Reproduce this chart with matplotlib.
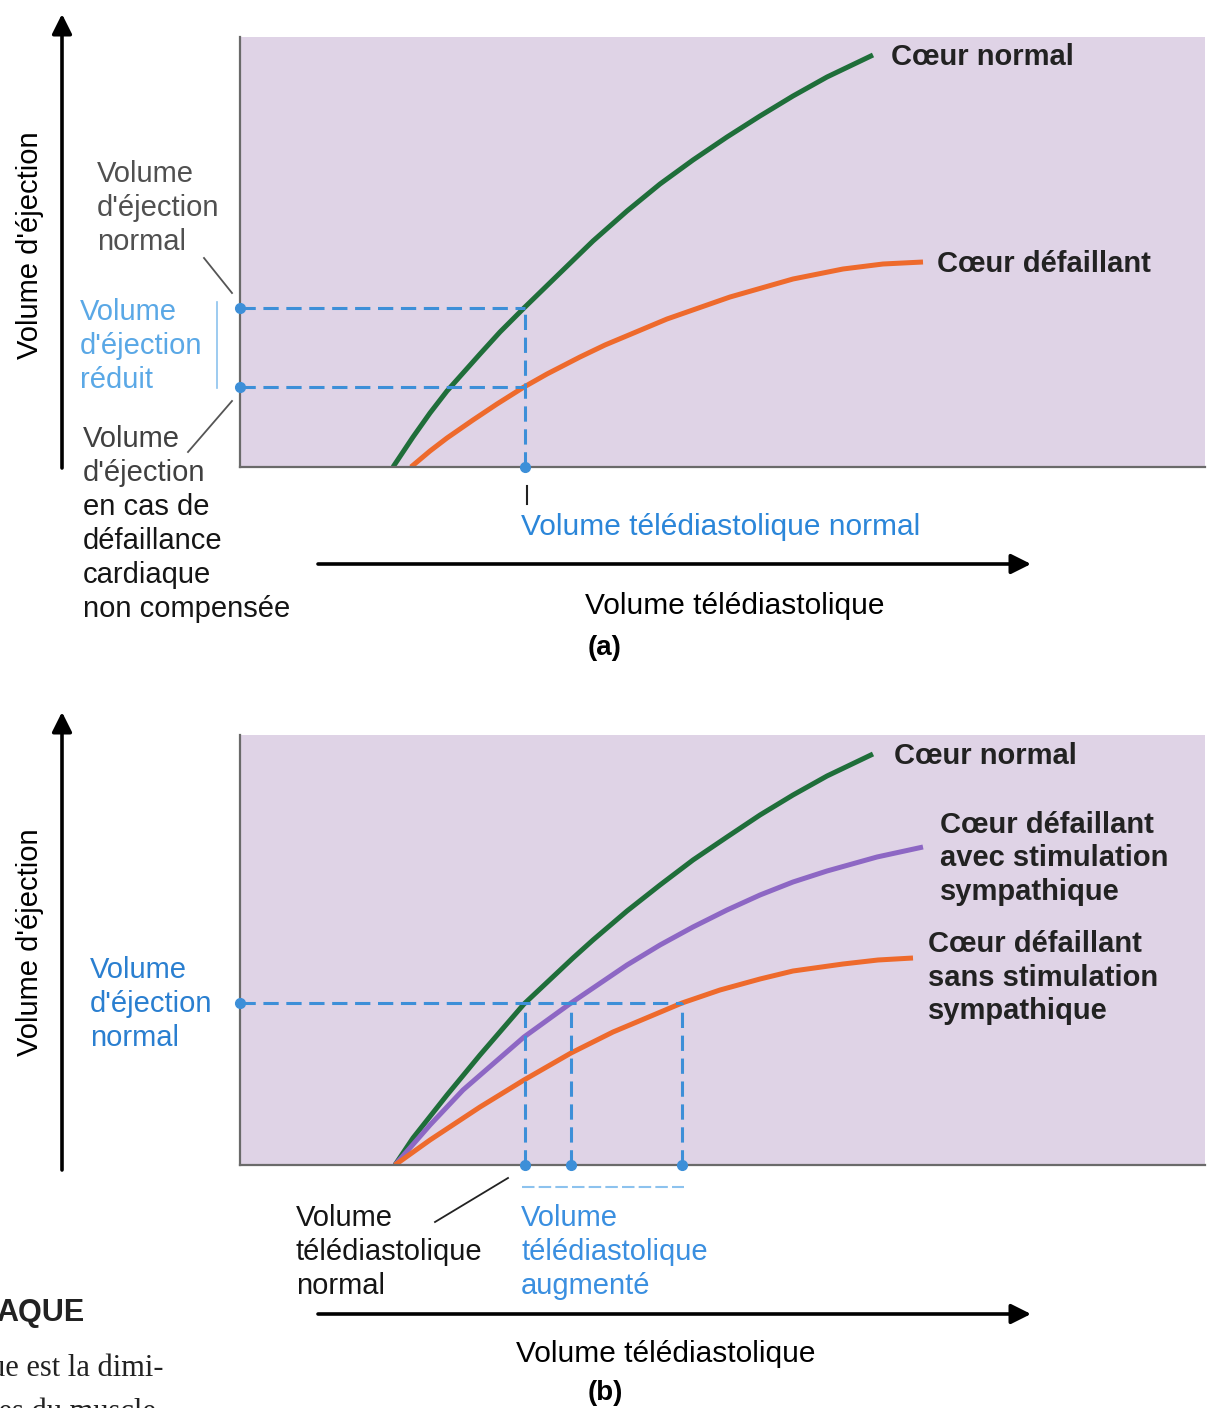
import matplotlib
matplotlib.use("Agg")
import matplotlib.pyplot as plt

plt.rcParams['font.family'] = ['Liberation Sans', 'DejaVu Sans']

# --- data (arbitrary volume units) ---
# panel (a)
edv_a_normal = [153, 173, 190, 207, 240, 260, 284, 320, 353, 387, 420, 453, 487, 520, 553, 587, 633]
sv_a_normal = [0, 30, 54, 76, 113, 135, 159, 194, 226, 256, 283, 307, 330, 351, 371, 390, 412]
edv_a_fail = [171, 190, 207, 233, 257, 284, 307, 340, 365, 427, 490, 553, 603, 643, 683]
sv_a_fail = [0, 16, 29, 47, 63, 80, 93, 110, 122, 148, 170, 188, 198, 203, 205]
edv_ref_a = 285
sv_ref_a = [159, 80]

# panel (b)
edv_b_normal = [155, 173, 207, 240, 284, 333, 353, 387, 420, 453, 487, 520, 553, 587, 633]
sv_b_normal = [0, 27, 70, 110, 161, 207, 225, 254, 280, 305, 328, 350, 370, 389, 411]
edv_b_symp = [155, 190, 223, 284, 331, 387, 420, 453, 487, 520, 553, 587, 637, 683]
sv_b_symp = [0, 40, 75, 128, 162, 200, 220, 238, 255, 270, 283, 294, 308, 318]
edv_b_fail = [155, 190, 240, 284, 331, 373, 442, 480, 520, 553, 603, 638, 673]
sv_b_fail = [0, 25, 58, 85, 112, 133, 162, 175, 186, 194, 201, 205, 207]
sv_ref_b = 162
edv_ref_b = [285, 331, 442]

GREEN = '#1f6e3a'
ORANGE = '#ee6a2c'
PURPLE = '#8d67c4'
BLUE = '#3d8fd8'
BG = '#dfd3e6'
W, H = 1210, 1408

fig = plt.figure(figsize=(W / 100, H / 100), dpi=100)
bg = fig.add_axes([0, 0, 1, 1])
bg.set_xlim(0, W)
bg.set_ylim(H, 0)
bg.axis('off')
bg.set_zorder(10)


def panel(top, bottom):
    ax = fig.add_axes([240 / W, 1 - bottom / H, 965 / W, (bottom - top) / H])
    ax.set_xlim(0, 965)
    ax.set_ylim(0, bottom - top)
    ax.set_facecolor(BG)
    for s in ['top', 'right']:
        ax.spines[s].set_visible(False)
    for s in ['left', 'bottom']:
        ax.spines[s].set_color('#6a6a6a')
        ax.spines[s].set_linewidth(1.6)
    ax.set_xticks([])
    ax.set_yticks([])
    return ax


def rows(x, y0, texts, step=34, size=21, **kw):
    for i, t in enumerate(texts):
        bg.text(x, y0 + 2 + i * step, t, va='center', ha='left', fontsize=size, **kw)


def arrow(x0, y0, x1, y1):
    bg.annotate('', xy=(x1, y1), xytext=(x0, y0),
                arrowprops=dict(arrowstyle='-|>', color='black', lw=2.6,
                                mutation_scale=30, shrinkA=0, shrinkB=0))


dash = dict(color=BLUE, lw=2.2, dashes=(5, 2.5))
dot = dict(color=BLUE, marker='o', markersize=7, ls='none', clip_on=False, zorder=5)
curve = dict(lw=3.6, solid_capstyle='butt', solid_joinstyle='round')

# ---------------- panel (a) ----------------
pa = panel(37, 467)
pa.plot(edv_a_normal, sv_a_normal, color=GREEN, **curve)
pa.plot(edv_a_fail, sv_a_fail, color=ORANGE, **curve)
for sv in sv_ref_a:
    pa.plot([0, edv_ref_a], [sv, sv], **dash)
pa.plot([edv_ref_a, edv_ref_a], [0, max(sv_ref_a)], **dash)
pa.plot([0, 0, edv_ref_a], sv_ref_a + [0], **dot)

rows(891, 55, ['Cœur normal'], fontweight='bold', color='#222222')
rows(937, 262, ['Cœur défaillant'], fontweight='bold', color='#222222')

rows(97, 172, ['Volume', "d'éjection", 'normal'], color='#505050')
rows(80, 310, ['Volume', "d'éjection", 'réduit'], color='#5aa8e6')
rows(83, 437, ['Volume', "d'éjection"], color='#404040')
rows(83, 505, ['en cas de', 'défaillance', 'cardiaque', 'non compensée'], color='#151515')
bg.plot([204, 232], [258, 293], color='#555555', lw=1.3)
bg.plot([188, 232], [452, 401], color='#555555', lw=1.3)
bg.plot([217, 217], [302, 388], color='#8cc2ee', lw=1.2)
bg.plot([527, 527], [486, 504], color='#222222', lw=1.5)
rows(521, 525, ['Volume télédiastolique normal'], size=21.5, color='#2b86d9')

arrow(62, 468, 62, 14)
bg.text(30, 245, "Volume d'éjection", rotation=90, fontsize=21, ha='center', va='center')
arrow(318, 564, 1031, 564)
rows(585, 604, ['Volume télédiastolique'], size=21.5)
bg.text(605, 648, '(a)', fontsize=20, fontweight='bold', ha='center', va='center')

# ---------------- panel (b) ----------------
pb = panel(735, 1165)
pb.plot(edv_b_normal, sv_b_normal, color=GREEN, **curve)
pb.plot(edv_b_symp, sv_b_symp, color=PURPLE, **curve)
pb.plot(edv_b_fail, sv_b_fail, color=ORANGE, **curve)
pb.plot([0, max(edv_ref_b)], [sv_ref_b, sv_ref_b], **dash)
for e in edv_ref_b:
    pb.plot([e, e], [0, sv_ref_b], **dash)
pb.plot([0], [sv_ref_b], **dot)
pb.plot(edv_ref_b, [0] * len(edv_ref_b), **dot)

rows(894, 754, ['Cœur normal'], fontweight='bold', color='#222222')
rows(940, 823, ['Cœur défaillant', 'avec stimulation', 'sympathique'], step=33.5,
     fontweight='bold', color='#222222')
rows(928, 942, ['Cœur défaillant', 'sans stimulation', 'sympathique'], step=33.5,
     fontweight='bold', color='#222222')
rows(90, 968, ['Volume', "d'éjection", 'normal'], color='#2a7fd0')

bg.plot([522, 684], [1187, 1187], color='#8cc2ee', lw=1.5, dashes=(6, 2))
bg.plot([435, 508], [1222, 1178], color='#222222', lw=1.3)
rows(296, 1216, ['Volume', 'télédiastolique', 'normal'], color='#151515')
rows(521, 1216, ['Volume', 'télédiastolique', 'augmenté'], color='#3a8fe0')

arrow(62, 1170, 62, 712)
bg.text(30, 942, "Volume d'éjection", rotation=90, fontsize=21, ha='center', va='center')
arrow(318, 1314, 1031, 1314)
rows(516, 1352, ['Volume télédiastolique'], size=21.5)
bg.text(605, 1393, '(b)', fontsize=20, fontweight='bold', ha='center', va='center')

# fragment of the surrounding book page
bg.text(-4, 1313, 'AQUE', fontsize=22, fontweight='bold', va='center', color='#222222')
bg.text(-10, 1368, 'ue est la dimi-', fontsize=22, va='center',
        family=['Liberation Serif', 'DejaVu Serif'], color='#222222')
bg.text(-10, 1412, 'les du muscle', fontsize=22, va='center',
        family=['Liberation Serif', 'DejaVu Serif'], color='#222222')

fig.savefig('out.png', dpi=100)
